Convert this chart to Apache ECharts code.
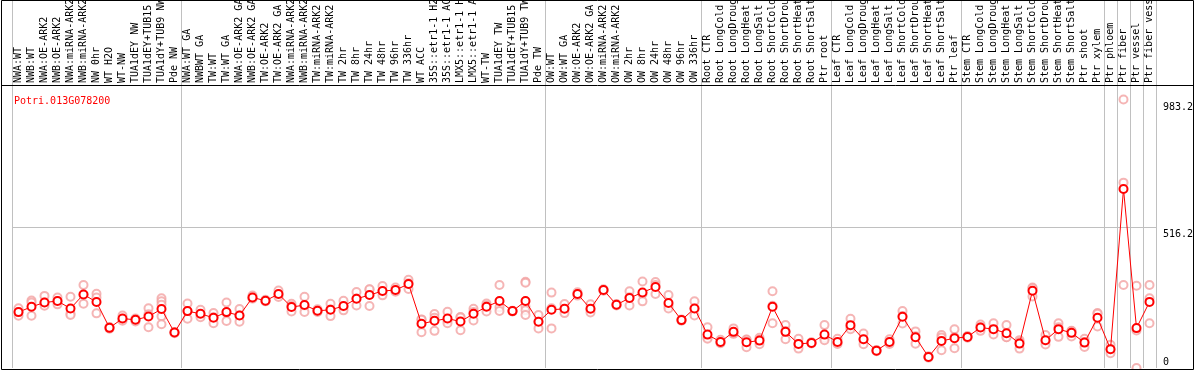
<!DOCTYPE html>
<html>
<head>
<meta charset="utf-8">
<script src="https://cdn.jsdelivr.net/npm/echarts@6/dist/echarts.min.js"></script>
<style>
  html, body { margin: 0; padding: 0; background: #fff; }
  #main { width: 1194px; height: 370px; }
</style>
</head>
<body>
<div id="main"></div>
<script>
// 样本名称（顶部竖排标签）
var categories = [
  'NWA:WT', 'NWB:WT', 'NWA:OE-ARK2', 'NWB:OE-ARK2', 'NWA:miRNA-ARK2', 'NWB:miRNA-ARK2',
  'NW 0hr', 'WT H2O', 'WT-NW', 'TUA1dEY NW', 'TUA1dEY+TUB15', 'TUA1dY+TUB9 NW', 'Pde NW',
  'NWA:WT GA', 'NWBWT GA', 'TW:WT', 'TW:WT GA', 'NWA:OE-ARK2 GA', 'NWB:OE-ARK2 GA',
  'TW:OE-ARK2', 'TW:OE-ARK2 GA', 'NWA:miRNA-ARK2', 'NWB:miRNA-ARK2', 'TW:miRNA-ARK2',
  'TW:miRNA-ARK2', 'TW 2hr', 'TW 8hr', 'TW 24hr', 'TW 48hr', 'TW 96hr', 'TW 336hr',
  'WT ACC', '35S::etr1-1 H2O', '35S::etr1-1 ACC', 'LMX5::etr1-1 H2O', 'LMX5::etr1-1 ACC',
  'WT-TW', 'TUA1dEY TW', 'TUA1dEY+TUB15 TW', 'TUA1dY+TUB9 TW', 'Pde TW',
  'OW:WT', 'OW:WT GA', 'OW:OE-ARK2', 'OW:OE-ARK2 GA', 'OW:miRNA-ARK2', 'OW:miRNA-ARK2',
  'OW 2hr', 'OW 8hr', 'OW 24hr', 'OW 48hr', 'OW 96hr', 'OW 336hr',
  'Root CTR', 'Root LongCold', 'Root LongDrought', 'Root LongHeat', 'Root LongSalt',
  'Root ShortCold', 'Root ShortDrought', 'Root ShortHeat', 'Root ShortSalt', 'Ptr root',
  'Leaf CTR', 'Leaf LongCold', 'Leaf LongDrought', 'Leaf LongHeat', 'Leaf LongSalt',
  'Leaf ShortCold', 'Leaf ShortDrought', 'Leaf ShortHeat', 'Leaf ShortSalt', 'Ptr leaf',
  'Stem CTR', 'Stem LongCold', 'Stem LongDrought', 'Stem LongHeat', 'Stem LongSalt',
  'Stem ShortCold', 'Stem ShortDrought', 'Stem ShortHeat', 'Stem ShortSalt', 'Ptr shoot',
  'Ptr xylem', 'Ptr phloem', 'Ptr fiber', 'Ptr vessel', 'Ptr fiber vessel'
];

// 每组的起始下标（竖分隔线）
var groupStarts = [0, 13, 41, 53, 63, 73, 84, 85, 86, 87];

// 平均值
var means = [
  204.6, 224.1, 239.9, 245.1, 217.9, 269.3, 241.4, 147.0, 181.1, 176.4,
  188.5, 215.7, 129.7, 208.3, 198.4, 183.7, 204.6, 192.2, 258.3, 246.2,
  270.8, 223.0, 230.4, 209.4, 213.1, 226.7, 253.5, 267.1, 281.8, 285.5,
  307.5, 161.7, 172.7, 181.1, 170.1, 198.4, 224.1, 245.1, 208.3, 245.1,
  169.0, 213.1, 216.8, 270.8, 216.8, 285.5, 231.5, 256.1, 276.7, 296.5,
  237.7, 175.3, 217.9, 122.3, 95.5, 132.3, 94.4, 100.3, 224.1, 132.3,
  88.2, 91.9, 122.3, 95.5, 156.9, 105.4, 63.6, 95.5, 187.4, 112.8,
  40.4, 99.2, 109.1, 113.9, 148.1, 142.2, 127.5, 89.3, 282.9, 101.8,
  142.2, 128.6, 93.0, 183.7, 68.7, 655.2, 146.0, 242.0
];

// 各重复样本的值
var replicates = [
  [219, 204, 191], [247, 240, 191], [264, 240, 228], [258, 244, 233], [261, 199, 194],
  [304, 269, 235], [272, 258, 200], [150, 147, 144], [192, 178, 173], [181, 178, 170],
  [219, 197, 149], [255, 244, 232, 189, 160], [132, 130, 127], [236, 209, 180], [213, 196, 186],
  [201, 186, 164], [240, 202, 172], [216, 192, 169], [265, 256, 254], [250, 245, 244],
  [284, 269, 260], [235, 227, 207], [261, 226, 205], [215, 209, 205], [235, 214, 190],
  [246, 223, 211], [278, 254, 229], [287, 288, 227], [300, 280, 266], [295, 282, 279],
  [323, 310, 289], [178, 177, 131], [198, 184, 136], [206, 174, 164], [187, 185, 138],
  [217, 205, 174], [236, 229, 207], [304, 222, 209], [210, 208, 207], [316, 312, 225, 211, 194],
  [194, 169, 145], [276, 219, 145], [234, 216, 201], [277, 271, 265], [233, 214, 203],
  [288, 285, 283], [234, 231, 229], [281, 259, 229], [317, 271, 244], [315, 304, 271],
  [267, 228, 218], [178, 175, 173], [244, 218, 192], [149, 111, 107], [103, 93, 91],
  [145, 127, 125], [104, 103, 76], [111, 103, 87], [281, 228, 164], [157, 135, 105],
  [107, 87, 71], [94, 92, 90], [157, 109, 102], [107, 92, 88], [180, 149, 142],
  [126, 103, 87], [66, 64, 61], [105, 93, 88], [209, 190, 163], [134, 116, 89],
  [43, 40, 38], [121, 112, 65], [142, 113, 72], [117, 114, 111], [159, 149, 136],
  [164, 140, 123], [157, 113, 113], [102, 95, 71], [295, 292, 262], [121, 99, 86],
  [164, 149, 114], [136, 135, 115], [107, 95, 77], [201, 199, 152], [85, 68, 54],
  [983.2, 678.6, 303.8], [301, 137, 0], [304, 255, 164]
];

// 右侧刻度标签
var yLabels = [0, 516.2, 983.2];
var yMax = 1032.4;

var repPoints = [];
replicates.forEach(function (list, i) {
  list.forEach(function (v) { repPoints.push([i, v]); });
});

var monoFont = 'DejaVu Sans Mono';
var isGroupStart = function (index) { return groupStarts.indexOf(index) >= 0; };

var chart = echarts.init(document.getElementById('main'));

var option = {
  animation: false,
  backgroundColor: '#fff',
  title: {
    text: 'Potri.013G078200',
    left: 9,
    top: 91,
    textStyle: { color: '#ff0000', fontSize: 10, fontWeight: 'normal', fontFamily: monoFont }
  },
  grid: [
    { left: 12, right: 38, top: 0, height: 85, outerBoundsMode: 'none', containLabel: false },
    { left: 12, right: 38, top: 86, bottom: 2, outerBoundsMode: 'none', containLabel: false }
  ],
  xAxis: [
    {
      gridIndex: 0,
      type: 'category',
      data: categories,
      axisLine: { show: false },
      axisTick: { show: false },
      axisLabel: { show: false },
      splitLine: { show: true, interval: isGroupStart, lineStyle: { color: '#c0c0c0', width: 1 } }
    },
    {
      gridIndex: 1,
      type: 'category',
      position: 'top',
      data: categories,
      axisLine: { show: false },
      axisTick: { show: false },
      axisLabel: {
        interval: 0,
        rotate: 90,
        margin: 3,
        color: '#000',
        fontSize: 10,
        fontFamily: monoFont
      },
      splitLine: { show: true, interval: isGroupStart, lineStyle: { color: '#c0c0c0', width: 1 } }
    }
  ],
  yAxis: [
    { gridIndex: 0, type: 'value', show: false },
    {
      gridIndex: 1,
      type: 'value',
      position: 'right',
      min: 0,
      max: yMax,
      interval: 516.2,
      axisLine: { show: false },
      axisTick: { show: false },
      splitLine: { show: true, showMinLine: false, showMaxLine: false, lineStyle: { color: '#c0c0c0', width: 1 } },
      axisLabel: {
        customValues: yLabels,
        margin: 7,
        color: '#000',
        fontSize: 10,
        fontFamily: monoFont,
        formatter: function (v) {
          return v === 0 ? '{lo|0}' : '{hi|' + v + '}';
        },
        rich: {
          hi: { padding: [15, 0, 0, 0], fontSize: 10, fontFamily: monoFont, color: '#000' },
          lo: { padding: [0, 0, 12, 0], fontSize: 10, fontFamily: monoFont, color: '#000' }
        }
      }
    }
  ],
  graphic: [
    {
      type: 'rect',
      silent: true,
      shape: { x: 1.5, y: 0.5, width: 1192, height: 369 },
      style: { fill: null, stroke: '#000', lineWidth: 1 },
      z: 100
    },
    {
      type: 'line',
      silent: true,
      shape: { x1: 1, y1: 85.5, x2: 1194, y2: 85.5 },
      style: { stroke: '#000', lineWidth: 1 },
      z: 100
    }
  ],
  series: [
    {
      name: 'replicates',
      type: 'scatter',
      xAxisIndex: 1,
      yAxisIndex: 1,
      data: repPoints,
      symbol: 'emptyCircle',
      symbolSize: 8,
      itemStyle: { color: '#f2a2a2', borderWidth: 1.2 },
      z: 2
    },
    {
      name: 'mean',
      type: 'line',
      xAxisIndex: 1,
      yAxisIndex: 1,
      data: means,
      symbol: 'emptyCircle',
      symbolSize: 8,
      showAllSymbol: true,
      lineStyle: { color: '#ff0000', width: 1 },
      itemStyle: { color: '#ff0000', borderWidth: 1.3 },
      z: 3
    }
  ]
};

chart.setOption(option);
</script>
</body>
</html>
